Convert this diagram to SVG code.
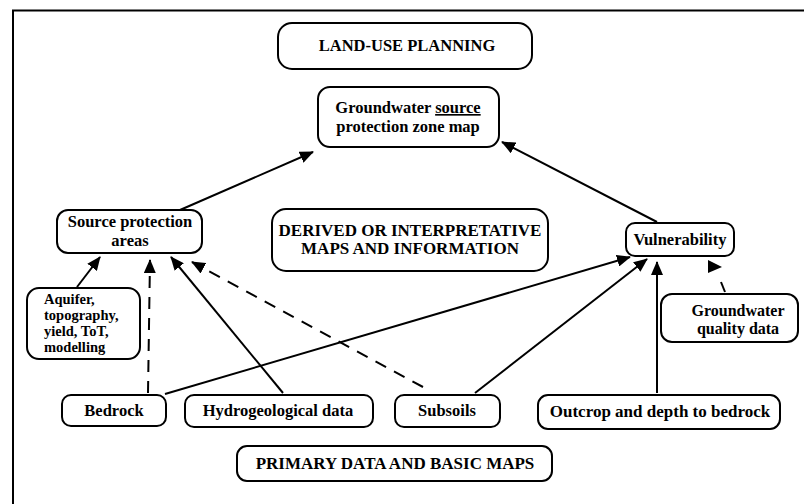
<svg xmlns="http://www.w3.org/2000/svg" width="804" height="504" viewBox="0 0 804 504">
<style>
.box{fill:#fff;stroke:#000;stroke-width:2}
text{font-family:"Liberation Serif","Times New Roman",serif;font-weight:bold;font-size:16.5px;fill:#000;text-anchor:middle}
text.left{text-anchor:start;font-size:14.5px}
.cap{font-size:17px}
.ln{stroke:#000;stroke-width:2;fill:none}
.dash{stroke-dasharray:12,9}
</style>
<defs>
<marker id="ah" markerUnits="userSpaceOnUse" markerWidth="14" markerHeight="12" refX="13" refY="6" orient="auto">
<path d="M0,0 L14,6 L0,12 Z" fill="#000"/>
</marker>
</defs>
<rect width="804" height="504" fill="#fff"/>
<path d="M13,504 L13,10.5 L804,10.5" class="ln" stroke-width="2.5"/>

<g id="connectors">
<line class="ln" x1="180" y1="210" x2="313" y2="152" marker-end="url(#ah)"/>
<line class="ln" x1="657" y1="222" x2="502" y2="142" marker-end="url(#ah)"/>
<line class="ln" x1="77" y1="287" x2="100" y2="257" marker-end="url(#ah)"/>
<line class="ln dash" x1="148" y1="393" x2="150" y2="260" marker-end="url(#ah)"/>
<line class="ln" x1="283" y1="393" x2="171" y2="257" marker-end="url(#ah)"/>
<line class="ln dash" x1="423" y1="387" x2="192" y2="262" marker-end="url(#ah)"/>
<line class="ln" x1="165" y1="394" x2="630" y2="257" marker-end="url(#ah)"/>
<line class="ln" x1="475" y1="393" x2="647" y2="259" marker-end="url(#ah)"/>
<line class="ln" x1="657" y1="393" x2="657" y2="262" marker-end="url(#ah)"/>
<line class="ln" x1="721" y1="282" x2="725" y2="292"/>
<polygon points="708,260 722,267 708,273" fill="#000"/>
</g>

<g id="land-use">
<rect class="box" x="278" y="23" width="254" height="46" rx="14"/>
<text x="407" y="51">LAND-USE PLANNING</text>
</g>
<g id="gw-map">
<rect class="box" x="318" y="87" width="181" height="60" rx="12"/>
<text x="408" y="113">Groundwater <tspan text-decoration="underline">source</tspan></text>
<text x="408" y="132">protection zone map</text>
</g>
<g id="source-protection">
<rect class="box" x="57" y="210" width="145" height="43" rx="11"/>
<text x="130" y="227">Source protection</text>
<text x="130" y="246">areas</text>
</g>
<g id="derived">
<rect class="box" x="272" y="209" width="276" height="62" rx="14"/>
<text class="cap" x="410" y="236">DERIVED OR INTERPRETATIVE</text>
<text class="cap" x="410" y="254">MAPS AND INFORMATION</text>
</g>
<g id="vulnerability">
<rect class="box" x="626" y="223" width="108" height="33" rx="9"/>
<text x="680" y="245" font-size="17">Vulnerability</text>
</g>
<g id="gw-quality">
<rect class="box" x="661" y="294" width="137" height="48" rx="11"/>
<text x="738" y="316" style="font-size:16px">Groundwater</text>
<text x="738" y="334" style="font-size:16px">quality data</text>
</g>
<g id="aquifer">
<rect class="box" x="27" y="288" width="113" height="71" rx="12"/>
<text class="left" x="44" y="304">Aquifer,</text>
<text class="left" x="44" y="320">topography,</text>
<text class="left" x="44" y="336">yield, ToT,</text>
<text class="left" x="44" y="352">modelling</text>
</g>
<g id="bedrock">
<rect class="box" x="62" y="395" width="104" height="31" rx="9"/>
<text x="114" y="416">Bedrock</text>
</g>
<g id="hydro">
<rect class="box" x="185" y="395" width="188" height="32" rx="9"/>
<text x="278" y="416">Hydrogeological data</text>
</g>
<g id="subsoils">
<rect class="box" x="395" y="395" width="105" height="32" rx="9"/>
<text x="447" y="416">Subsoils</text>
</g>
<g id="outcrop">
<rect class="box" x="538" y="395" width="242" height="34" rx="10"/>
<text x="660" y="417" style="font-size:17px">Outcrop and depth to bedrock</text>
</g>
<g id="primary">
<rect class="box" x="237" y="446" width="315" height="35" rx="10"/>
<text class="cap" x="395" y="469">PRIMARY DATA AND BASIC MAPS</text>
</g>
</svg>
